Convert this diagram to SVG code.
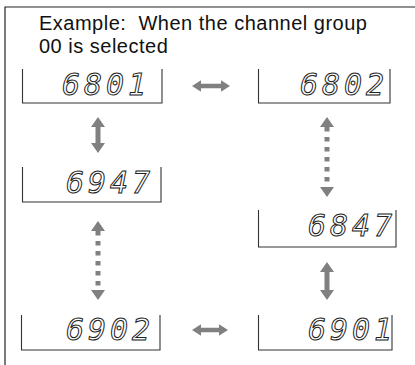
<svg xmlns="http://www.w3.org/2000/svg" width="415" height="365" viewBox="0 0 415 365">
<style>
.frame{stroke:#222;stroke-width:1.2;fill:none}
.box{stroke:#333;stroke-width:1.1;fill:none}
.title{font-family:"Liberation Sans",Arial,sans-serif;font-size:20px;fill:#111;letter-spacing:0.5px;white-space:pre}
.lcd{font-family:"DejaVu Sans Mono",monospace;font-style:italic;font-size:30px;fill:none;stroke:#222;stroke-width:1;letter-spacing:3.9px}
.arr{fill:#808080}
.dash{stroke:#808080;stroke-width:5;stroke-dasharray:4.5 5.5;fill:none}
</style>
<rect width="415" height="365" fill="#fff"/>
<g id="frame">
<path class="frame" d="M5,365 V7 H415"/>
<text class="title" x="39" y="30" xml:space="preserve">Example:  When the channel group</text>
<text class="title" x="39" y="53">00 is selected</text>
</g>
<g id="n6801">
<path class="box" d="M22.5,69 V103 H162 V69"/>
<text class="lcd" x="62" y="95">6801</text>
</g>
<g id="n6802">
<path class="box" d="M258.5,69 V103 H390 V69"/>
<text class="lcd" x="300" y="95">6802</text>
</g>
<g id="n6947">
<path class="box" d="M22.5,167 V202 H161 V167"/>
<text class="lcd" x="66" y="193">6947</text>
</g>
<g id="n6847">
<path class="box" d="M258.5,210 V247 H396 V210"/>
<text class="lcd" x="308" y="236">6847</text>
</g>
<g id="n6902">
<path class="box" d="M21.5,315 V350 H160 V315"/>
<text class="lcd" x="66" y="340">6902</text>
</g>
<g id="n6901">
<path class="box" d="M258.5,315 V350 H392 V315"/>
<text class="lcd" x="308" y="340">6901</text>
</g>
<g id="connectors">
<path class="arr" d="M192,86 L201,80.3 L201,83.8 L221,83.8 L221,80.3 L230,86 L221,91.7 L221,88.2 L201,88.2 L201,91.7 Z"/>
<path class="arr" d="M192,330 L201,324.3 L201,327.8 L219,327.8 L219,324.3 L228,330 L219,335.7 L219,332.2 L201,332.2 L201,335.7 Z"/>
<path class="arr" d="M98,117 L105,127 L100.5,127 L100.5,143 L105,143 L98,153 L91,143 L95.5,143 L95.5,127 L91,127 Z"/>
<path class="arr" d="M327,262 L334,272 L329.5,272 L329.5,290 L334,290 L327,300 L320,290 L324.5,290 L324.5,272 L320,272 Z"/>
<path class="arr" d="M327,117 L334,127 L320,127 Z M327,197 L334,187 L320,187 Z"/>
<line class="dash" x1="327" y1="127" x2="327" y2="187"/>
<path class="arr" d="M98,221 L105,231 L91,231 Z M98,300 L105,290 L91,290 Z"/>
<line class="dash" x1="98" y1="231" x2="98" y2="290"/>
</g>
</svg>
